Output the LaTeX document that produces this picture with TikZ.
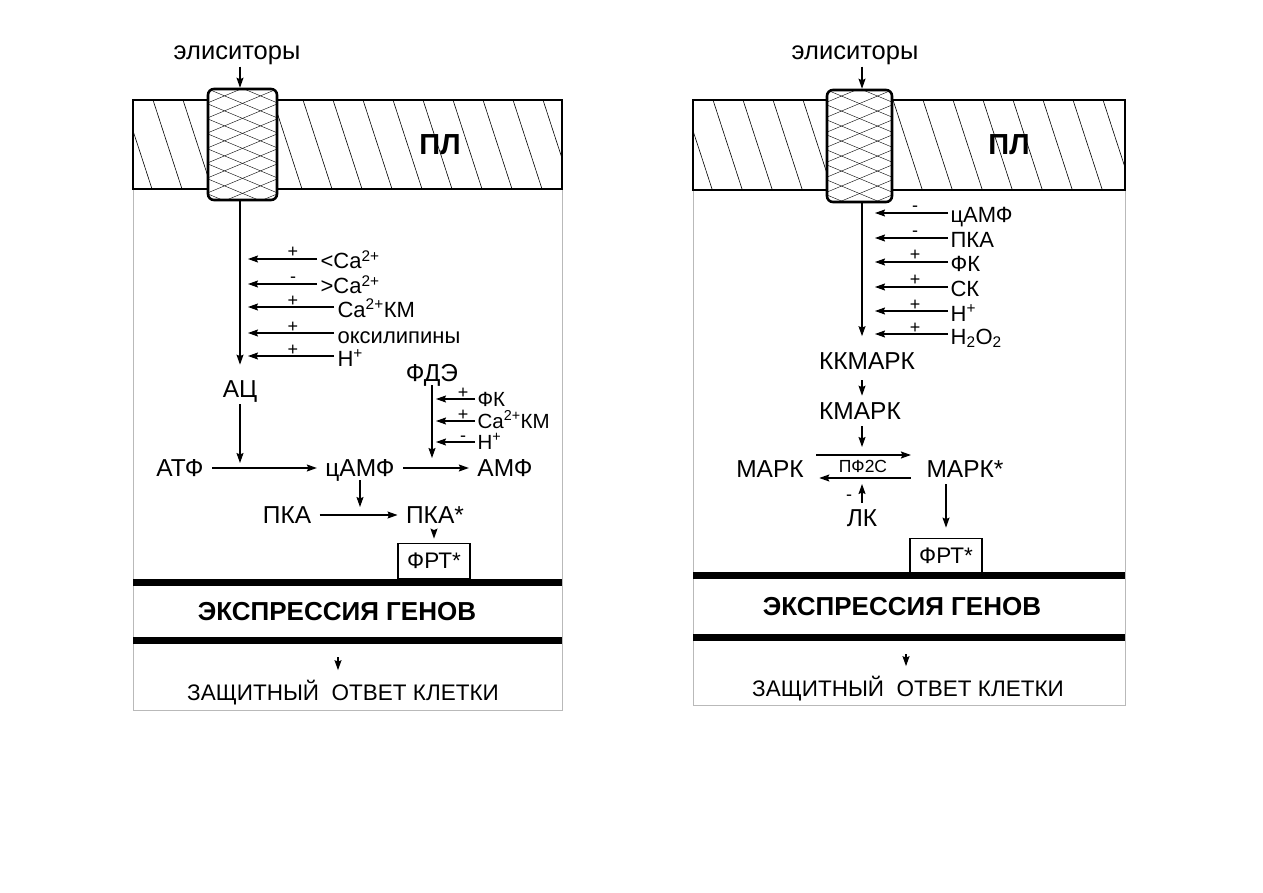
\documentclass[tikz,border=0pt]{standalone}
\usepackage{fontspec}
\setmainfont{Liberation Sans}
\usetikzlibrary{arrows.meta,positioning}

\tikzset{
  mn/.style={font=\fontsize{24.5}{27}\selectfont, text height=17.5pt, text depth=0pt, inner xsep=8pt, inner ysep=6pt},
  inp/.style={font=\fontsize{22}{24}\selectfont, text height=20pt, text depth=0pt, inner sep=0pt, anchor=west},
  sgn/.style={font=\fontsize{18}{18}\selectfont, inner sep=0pt, anchor=base},
  elic/.style={font=\fontsize{25.5}{27}\selectfont, text height=14pt, text depth=6pt, inner sep=0pt},
  hdr/.style={font=\fontsize{26}{29}\selectfont\bfseries, inner sep=0pt},
  resp/.style={font=\fontsize{22.5}{25}\selectfont, text height=16.5pt, text depth=0pt, inner sep=0pt},
  frt/.style={draw, line width=1.8pt, font=\fontsize{22.5}{24}\selectfont, minimum width=72pt, minimum height=35pt, inner sep=0pt},
  band/.style={draw, line width=2.4pt, minimum height=89pt, inner sep=0pt,
    path picture={\foreach \k in {0,...,17}
      \draw[line width=0.6pt] ([xshift=\k*30pt-40pt]path picture bounding box.north west) -- ++(30pt,-92pt);}},
  chan/.style={draw, line width=2.6pt, rounded corners=6pt, fill=white, minimum width=69pt, minimum height=111pt, inner sep=0pt,
    path picture={\foreach \k in {0,...,11} {
      \draw[line width=0.4pt] ([yshift=45pt-\k*15pt]path picture bounding box.north west) -- ++(72pt,-30pt);
      \draw[line width=0.4pt] ([yshift=45pt-\k*15pt]path picture bounding box.north east) -- ++(-72pt,-30pt);}}},
  panel/.style={draw=gray!55, line width=0.8pt},
  gene/.style={line width=7pt},
}

\begin{document}
\begin{tikzpicture}[x=1pt, y=-1pt, line width=1.2pt, >={Stealth[length=10pt, width=7pt, inset=1.5pt]}]
\useasboundingbox (0,0) rectangle (1263,893);

% ---- left panel: cAMP cascade ----
\draw[panel] (133,100) rectangle (562,710);
\node[band, minimum width=429pt] (plL) at (347.5,144.5) {};
\node[hdr, font=\fontsize{29}{30}\selectfont\bfseries] (plLt) at (440,145) {ПЛ};
\node[chan] (chL) at (242.5,144.5) {};
\node[elic] (elL) at (237,56) {элиситоры};
\node[mn] (AC) at (240,389) {АЦ};
\draw[->] (elL.south -| AC.north) -- (chL.north -| AC.north);
\draw[->, shorten >=9pt] (chL.south -| AC.north) -- (AC.north);

\foreach \nm/\yy/\xx/\sg/\txt in {
  caLo/259/320/+/{<Ca\textsuperscript{2+}},
  caHi/284/320/-/{>Ca\textsuperscript{2+}},
  camL/307/337/+/{Ca\textsuperscript{2+}КМ},
  oxl/333/337/+/{оксилипины},
  hL/356/337/+/{H\textsuperscript{+}}}{
  \node[inp] (\nm) at (\xx,\yy) {\txt};
  \node[sgn] (\nm-s) at (293,\yy-1) {\sg};
  \draw[->, shorten <=3pt, shorten >=8pt] (\nm.west) -- (\nm.west -| AC.north);
}

\node[mn] (ATF) at (180,468) {АТФ};
\node[mn] (cAMP) at (360,468) {цАМФ};
\node[mn] (AMF) at (505,468) {АМФ};
\draw[->] (ATF) -- (cAMP);
\draw[->] (cAMP) -- (AMF);
\draw[->, shorten >=5pt] (AC.south) -- (AC.south |- ATF.east);

\node[mn] (PDE) at (432,373) {ФДЭ};
\draw[->, shorten <=-3pt, shorten >=10pt] (PDE.south) -- (PDE.south |- cAMP.east);
\foreach \nm/\yy/\sg/\txt in {
  fkL/399/+/ФК,
  camP/421/+/{Ca\textsuperscript{2+}КМ},
  hP/442/-/{H\textsuperscript{+}}}{
  \node[inp, text height=14pt, font=\fontsize{20.5}{22}\selectfont] (\nm) at (477,\yy) {\txt};
  \node[sgn] (\nm-s) at (463,\yy-1) {\sg};
  \draw[->, shorten <=2pt, shorten >=4pt] (\nm.west) -- (\nm.west -| PDE.south);
}

\node[mn] (PKA) at (287,515) {ПКА};
\node[mn] (PKAs) at (435,515) {ПКА*};
\draw[->] (PKA) -- (PKAs);
\draw[->, shorten <=-3pt, shorten >=8pt] (cAMP.south) -- (cAMP.south |- PKA.east);

\node[frt] (frtL) at (434,561) {ФРТ*};
\draw[->, shorten >=4pt] (PKAs.south -| frtL.north) -- (frtL.north);

\draw[gene] (133,582) -- (562,582);
\draw[gene] (133,640) -- (562,640);
\node[hdr] (exL) at (337,612) {ЭКСПРЕССИЯ ГЕНОВ};
\coordinate (gL) at (338,657);
\node[resp] (rsL) at (343,692) {ЗАЩИТНЫЙ\ \ ОТВЕТ КЛЕТКИ};
\draw[->, shorten >=13pt] (gL) -- (gL |- rsL.north);

% ---- right panel: MAPK cascade ----
\draw[panel] (693,100) rectangle (1125,705);
\node[band, minimum width=432pt, minimum height=90pt] (plR) at (909,145) {};
\node[hdr, font=\fontsize{29}{30}\selectfont\bfseries] (plRt) at (1009,145) {ПЛ};
\node[chan, minimum width=65pt, minimum height=112pt] (chR) at (859.5,146) {};
\node[elic] (elR) at (855,56) {элиситоры};
\coordinate (axR) at (862,0);
\node[mn] (KKM) at (867,361) {ККМАРК};
\draw[->] (elR.south -| axR) -- (chR.north -| axR);
\draw[->, shorten >=9.5pt] (chR.south -| axR) -- (KKM.north -| axR);

\foreach \nm/\yy/\sg/\txt in {
  rcAMP/213/-/цАМФ,
  rPKA/238/-/ПКА,
  rFK/262/+/ФК,
  rSK/287/+/СК,
  rH/311/+/{H\textsuperscript{+}},
  rHO/334/+/{H\textsubscript{2}O\textsubscript{2}}}{
  \node[inp] (\nm) at (950,\yy) {\txt};
  \node[sgn] (\nm-s) at (915,\yy-1) {\sg};
  \draw[->, shorten <=2pt, shorten >=13pt] (\nm.west) -- (\nm.west -| axR);
}

\node[mn] (KM) at (860,411) {КМАРК};
\draw[->, shorten <=4pt] (KKM.south -| axR) -- (KM.north -| axR);

\node[mn] (MAPK) at (770,469) {МАРК};
\node[mn] (MAPKs) at (965,469) {МАРК*};
\node[inner sep=0pt, font=\fontsize{17.5}{18}\selectfont] (pf2c) at (863,466) {ПФ2С};
\coordinate (fwA) at ([yshift=14pt]MAPK.east);
\coordinate (fwB) at ([yshift=14pt]MAPKs.west);
\coordinate (bkA) at ([yshift=-9pt]MAPKs.west);
\coordinate (bkB) at ([yshift=-9pt]MAPK.east);
\draw[->, shorten <=4pt, shorten >=7pt] (fwA) -- (fwB);
\draw[->, shorten <=7pt, shorten >=7pt] (bkA) -- (bkB);
\draw[->, shorten >=8pt] (KM.south -| axR) -- (axR |- fwA);

\node[mn] (LK) at (862,518) {ЛК};
\node[sgn] (LK-s) at (849,500) {-};
\draw[->, shorten >=6pt] (LK.north -| axR) -- (axR |- bkA);

\node[frt] (frtR) at (946,556) {ФРТ*};
\draw[->, shorten >=10pt] (MAPKs.south -| frtR.north) -- (frtR.north);

\draw[gene] (693,575) -- (1125,575);
\draw[gene] (693,637) -- (1125,637);
\node[hdr] (exR) at (902,607) {ЭКСПРЕССИЯ ГЕНОВ};
\coordinate (gR) at (906,654);
\node[resp] (rsR) at (908,688) {ЗАЩИТНЫЙ\ \ ОТВЕТ КЛЕТКИ};
\draw[->, shorten >=13pt] (gR) -- (gR |- rsR.north);
\end{tikzpicture}
\end{document}
